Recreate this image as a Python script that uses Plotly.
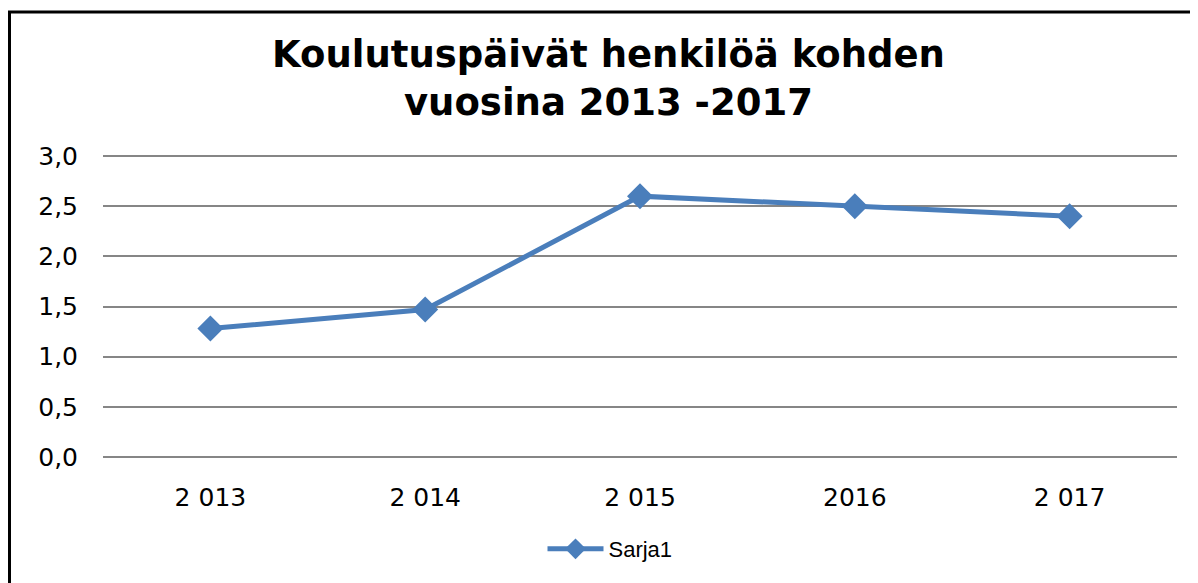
import plotly.graph_objects as go

years = ["2 013", "2 014", "2 015", "2016", "2 017"]
days = [1.28, 1.47, 2.60, 2.50, 2.40]
series_name = "Sarja1"
title_lines = ["Koulutuspäivät henkilöä kohden", "vuosina 2013 -2017"]

# page body has an 8px margin, so the figure sits at (8, 8) in the window
OFF = 8
W, H = 1198 - OFF, 583 - OFF
Y0, Y1 = -0.03, 3.03
top_px, bot_px = 156, 457          # window y of the 3,0 and 0,0 grid lines
unit = (bot_px - top_px) / 3.0
L, R = 103 - OFF, 21
T = int(round(top_px - OFF - (Y1 - 3) * unit))
B = int(round(H - (bot_px - OFF) - (0 - Y0) * unit))
pw, ph = W - L - R, H - T - B

def px_x(p):
    return (p - OFF - L) / pw

def px_y(p):
    return (H - B - (p - OFF)) / ph

fig = go.Figure()
fig.add_trace(go.Scatter(
    x=years, y=days, name=series_name, mode="lines+markers",
    line=dict(color="#4a7ebb", width=5),
    marker=dict(symbol="diamond", size=20, color="#4a7ebb"),
))

fig.update_layout(
    width=W, height=H,
    margin=dict(l=L, r=R, t=T, b=B),
    paper_bgcolor="white", plot_bgcolor="white",
    separators=", ",
    font=dict(family="DejaVu Sans, Verdana, sans-serif", size=25, color="black"),
    showlegend=True,
    legend=dict(orientation="h", x=px_x(610), y=px_y(549), xanchor="center", yanchor="middle",
                font=dict(size=22, family="Liberation Sans, Arial, sans-serif"),
                itemwidth=56, bgcolor="rgba(0,0,0,0)"),
    xaxis=dict(range=[-0.5, 4.5], showgrid=False, showline=False, ticks="", ticklabelstandoff=20),
    yaxis=dict(range=[Y0, Y1], tickvals=[0, 0.5, 1, 1.5, 2, 2.5, 3], tickformat=".1f", showgrid=True,
               gridcolor="#868686", gridwidth=2, zeroline=False, showline=False,
               ticks="", ticklabelstandoff=24),
)

fig.add_annotation(
    text="<b>" + "<br>".join(title_lines) + "</b>",
    xref="paper", yref="paper", x=px_x(608), y=px_y(79), xanchor="center", yanchor="middle",
    showarrow=False, font=dict(size=37, family="DejaVu Sans, Verdana, sans-serif"),
)

# outer chart border (left and top visible, right/bottom run off the page)
fig.add_shape(type="rect", xref="paper", yref="paper",
              x0=px_x(OFF + 1.5), y0=px_y(620), x1=px_x(1230), y1=px_y(12),
              line=dict(color="black", width=3), layer="below")

fig.write_html("out.html")
